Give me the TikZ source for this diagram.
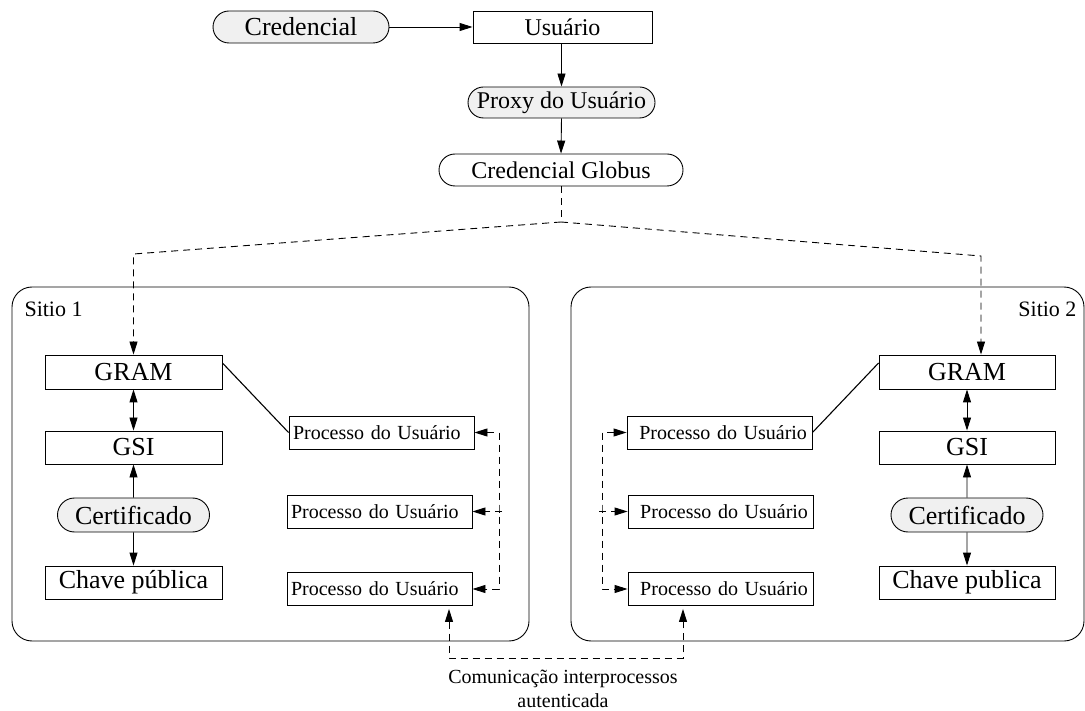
\documentclass[tikz,border=0pt]{standalone}
\usepackage{fontspec}
\setmainfont{Liberation Serif}
\usetikzlibrary{arrows.meta,shapes.misc}
\tikzstyle{every link} = []
\tikzstyle{link} = [>={Triangle[length=13pt,width=8pt]}, draw, line width=0.9pt, every link]
\tikzstyle{tracejado} = [link, dash pattern=on 7pt off 5pt]
\tikzstyle{caixa} = [draw, rectangle, inner sep=0pt, line width=0.9pt]
\tikzstyle{oval} = [draw, rounded rectangle, inner sep=0pt, line width=0.9pt, fill=fundo]
\tikzstyle{processo} = [caixa, minimum height=33pt, text width=177pt, inner xsep=4pt, font=\fontsize{20}{24}\selectfont]
\definecolor{fundo}{RGB}{240,240,240}

\begin{document}
\begin{tikzpicture}[x=1pt, y=-1pt]

        \useasboundingbox (0,0) rectangle (1085,711);
        \tikzstyle{every node} = [font=\fontsize{26}{30}\selectfont]

        % topo
        \node[oval, minimum width=176pt, minimum height=32pt] (credencial) at (301,27) {Credencial};
        \node[caixa, minimum width=179pt, minimum height=32pt, font=\fontsize{24}{28}\selectfont] (usuario) at (562.5,27) {Usuário};
        \node[oval, minimum width=187pt, minimum height=31pt, font=\fontsize{24}{28}\selectfont] (proxy) at (561.5,102.5) {Proxy do Usuário};
        \node[oval, fill=white, minimum width=244pt, minimum height=32pt, font=\fontsize{24}{28}\selectfont] (globus) at (561,170) {Credencial Globus};

        \draw[link,->] (credencial.east) -- (usuario.west);
        \draw[link,->] (usuario.south -| proxy.north) -- (proxy.north);
        \draw[link,->] (proxy.south) -- (globus.north);

        % sitios
        \draw[line width=0.9pt, rounded corners=20pt] (12,287) rectangle (529,641);
        \draw[line width=0.9pt, rounded corners=20pt] (571,287) rectangle (1084,641);
        \node[anchor=base west, font=\fontsize{22}{26}\selectfont] (sitio1) at (21,317) {Sitio 1};
        \node[anchor=base east, font=\fontsize{22}{26}\selectfont] (sitio2) at (1080,317) {Sitio 2};

        \node[caixa, minimum width=177pt, minimum height=34pt] (gram1) at (133.5,372) {GRAM};
        \node[caixa, minimum width=177pt, minimum height=33pt] (gsi1) at (133.5,447.5) {GSI};
        \node[oval, minimum width=152pt, minimum height=34pt] (cert1) at (133.5,515) {Certificado};
        \node[caixa, minimum width=177pt, minimum height=33pt] (chave1) at (133.5,582.5) {Chave pública};

        \node[caixa, minimum width=176pt, minimum height=34pt] (gram2) at (967,372) {GRAM};
        \node[caixa, minimum width=176pt, minimum height=33pt] (gsi2) at (967,447.5) {GSI};
        \node[oval, minimum width=152pt, minimum height=34pt] (cert2) at (967,515) {Certificado};
        \node[caixa, minimum width=176pt, minimum height=33pt] (chave2) at (967,582.5) {Chave publica};

        \node[processo, align=left] (p1l) at (381.5,432.5) {Processo do Usuário};
        \node[processo, align=left] (p2l) at (379.5,511.5) {Processo do Usuário};
        \node[processo, align=left] (p3l) at (379.5,589) {Processo do Usuário};
        \node[processo, align=right, inner xsep=5pt, text width=175pt] (p1r) at (719.5,432.5) {Processo do Usuário};
        \node[processo, align=right, inner xsep=5pt, text width=175pt] (p2r) at (720.5,511.5) {Processo do Usuário};
        \node[processo, align=right, inner xsep=5pt, text width=175pt] (p3r) at (720.5,589) {Processo do Usuário};

        % credencial globus para os sitios
        \coordinate (junta) at (561,222);
        \coordinate (canto1) at (133.5,254);
        \coordinate (canto2) at (981,256);
        \draw[tracejado] (globus.south) -- (junta);
        \draw[tracejado,->] (junta) -- (canto1) -- (gram1.north);
        \draw[tracejado,->] (junta) -- (canto2) -- (canto2 |- gram2.north);

        \draw[link,<->] (gram1) -- (gsi1);
        \draw[link,->] (cert1) -- (gsi1);
        \draw[link,->] (cert1) -- (chave1);
        \draw[link,<->] (gram2) -- (gsi2);
        \draw[link,->] (cert2) -- (gsi2);
        \draw[link,->] (cert2) -- (chave2);

        \draw[link, line width=1.1pt] ([yshift=9pt]gram1.east) -- (p1l.west);
        \draw[link, line width=1.1pt] ([yshift=9pt]gram2.west) -- (p1r.east);

        % comunicacao entre processos
        \coordinate (vl) at (499,511.5);
        \coordinate (vr) at (602,511.5);
        \draw[tracejado,<->] (p1l.east) -| (vl) |- (p3l.east);
        \draw[tracejado,->] ([xshift=3pt]vl) -- (p2l.east);
        \draw[tracejado,<->] (p1r.west) -| (vr) |- (p3r.west);
        \draw[tracejado,->] ([xshift=-3pt]vr) -- (p2r.west);

        \coordinate (b1) at (449,658);
        \coordinate (b2) at (683,658);
        \draw[tracejado,<->, shorten <=3pt, shorten >=3pt] (p3l.south -| b1) -- (b1) -- (b2) -- (p3r.south -| b2);
        \node[anchor=north, align=center, inner sep=0pt, font=\fontsize{20}{24}\selectfont] (comun) at (563,670) {Comunicação interprocessos\\autenticada};

\end{tikzpicture}
\end{document}
